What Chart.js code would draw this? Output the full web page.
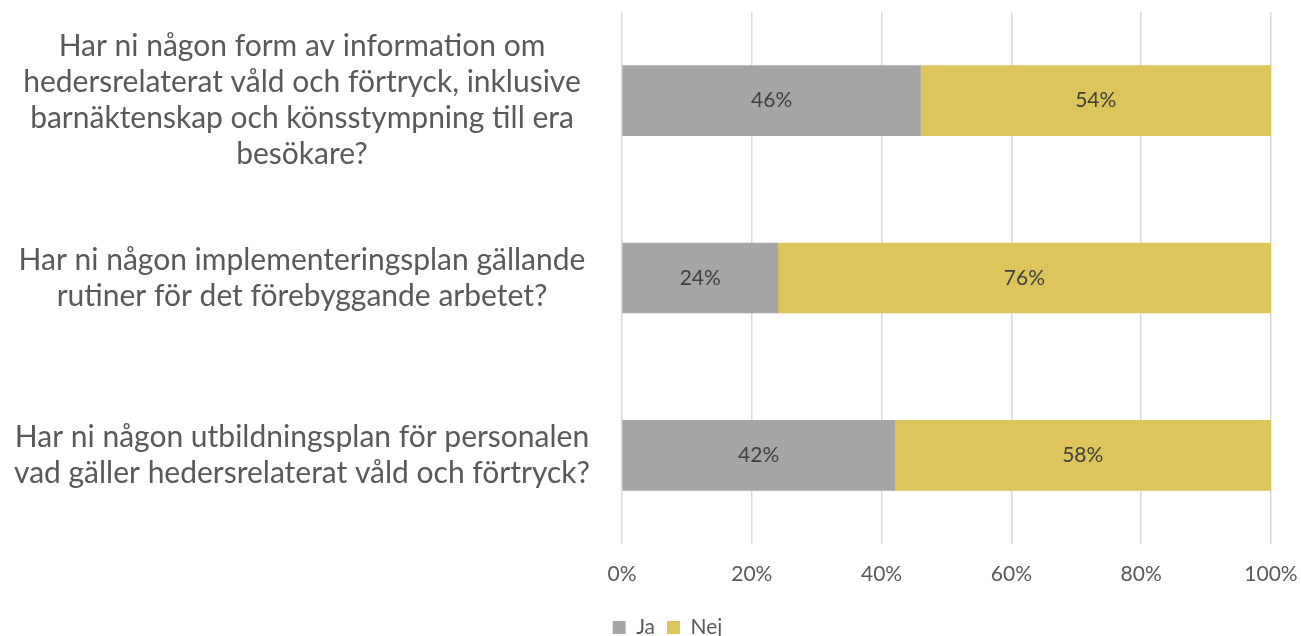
<!DOCTYPE html>
<html>
<head>
<meta charset="utf-8">
<script src="https://cdn.jsdelivr.net/npm/chart.js@4/dist/chart.umd.min.js"></script>
<style>
  html, body { margin: 0; padding: 0; background: #ffffff; }
  #wrap { width: 1301px; height: 636px; position: relative; }
</style>
</head>
<body>
<div id="wrap"><canvas id="c" width="1301" height="636"></canvas></div>
<script>
const categories = [
  ["Har ni någon form av information om", "hedersrelaterat våld och förtryck, inklusive", "barnäktenskap och könsstympning till era", "besökare?"],
  ["Har ni någon implementeringsplan gällande", "rutiner för det förebyggande arbetet?"],
  ["Har ni någon utbildningsplan för personalen", "vad gäller hedersrelaterat våld och förtryck?"]
];
const seriesNames = ["Ja", "Nej"];
const jaValues = [46, 24, 42];
const nejValues = [54, 76, 58];
const xTicks = [0, 20, 40, 60, 80, 100];

const FONT = "Lato, 'Open Sans', sans-serif";
const TEXT = "#595959";

const valueLabels = {
  id: 'valueLabels',
  afterDatasetsDraw(chart) {
    const ctx = chart.ctx;
    ctx.save();
    ctx.font = "21px " + FONT;
    ctx.fillStyle = "#404040";
    ctx.textAlign = "center";
    ctx.textBaseline = "middle";
    chart.data.datasets.forEach((ds, i) => {
      const meta = chart.getDatasetMeta(i);
      meta.data.forEach((el, j) => {
        const p = el.getCenterPoint();
        ctx.fillText(ds.data[j] + "%", p.x, p.y);
      });
    });
    ctx.restore();
  }
};

const legendShift = {
  id: 'legendShift',
  afterLayout(chart) {
    if (chart.legend) { chart.legend.left += 32; chart.legend.right += 32; }
  }
};

new Chart(document.getElementById('c'), {
  type: 'bar',
  data: {
    labels: categories,
    datasets: [
      { label: seriesNames[0], data: jaValues, backgroundColor: "#A5A5A5", borderWidth: 0, barThickness: 70 },
      { label: seriesNames[1], data: nejValues, backgroundColor: "#DEC55B", borderWidth: 0, barThickness: 70 }
    ]
  },
  options: {
    indexAxis: 'y',
    responsive: false,
    animation: false,
    devicePixelRatio: 1,
    layout: { padding: { top: 12, right: 30, left: 0, bottom: -12 } },
    plugins: {
      legend: {
        position: 'bottom',
        labels: {
          boxWidth: 13, boxHeight: 13, padding: 12,
          color: TEXT,
          font: { family: FONT, size: 21 }
        }
      },
      tooltip: { enabled: false }
    },
    scales: {
      x: {
        stacked: true,
        min: 0, max: 100,
        afterBuildTicks(scale) { scale.ticks = xTicks.map(v => ({ value: v })); },
        afterFit(scale) { scale.height = 61; scale.paddingLeft = 0; scale.paddingRight = 0; },
        ticks: {
          callback: v => v + "%",
          color: TEXT,
          padding: 18,
          maxRotation: 0,
          font: { family: FONT, size: 21 }
        },
        grid: { color: "#D9D9D9", lineWidth: 1.5, drawTicks: false },
        border: { display: false }
      },
      y: {
        stacked: true,
        afterFit(scale) { scale.width = 622; scale.paddingTop = 0; scale.paddingBottom = 0; },
        ticks: {
          color: TEXT,
          crossAlign: 'center',
          padding: 32,
          font: { family: FONT, size: 30, lineHeight: 1.2 }
        },
        grid: { display: false, drawTicks: false },
        border: { display: false }
      }
    }
  },
  plugins: [valueLabels, legendShift]
});
</script>
</body>
</html>
